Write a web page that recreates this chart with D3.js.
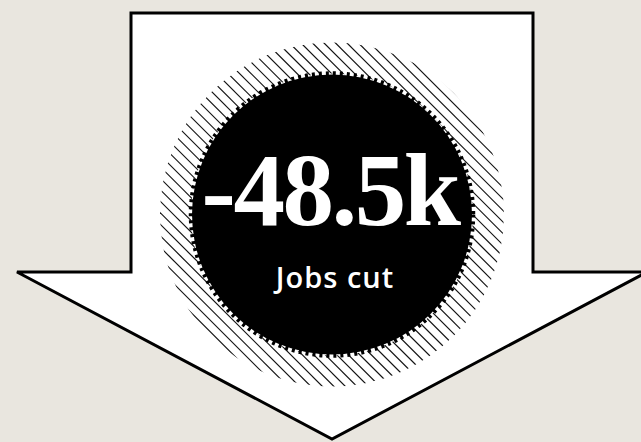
<!DOCTYPE html>
<html>
<head>
<meta charset="utf-8">
<script src="https://cdn.jsdelivr.net/npm/d3@7"></script>
<style>
  html, body { margin: 0; padding: 0; background: #e9e6df; }
  svg { display: block; }
</style>
</head>
<body>
<svg id="chart" width="641" height="442"></svg>
<script>
// ---- data ----
const values = [-48.5];
const units = ["k"];
const labels = ["Jobs cut"];

const W = 641, H = 442;
const svg = d3.select("#chart");
svg.append("rect").attr("width", W).attr("height", H).attr("fill", "#e9e6df");

const cx = 332, cy = 214.5;

// arrow
const shaftHalf = 201, shaftTop = 13, headY = 272, headHalf = 315, tipY = 439;
const arrowPts = [
  [cx - shaftHalf, shaftTop], [cx + shaftHalf, shaftTop], [cx + shaftHalf, headY],
  [cx + headHalf, headY], [cx, tipY], [cx - headHalf, headY], [cx - shaftHalf, headY]
];
svg.append("path")
  .attr("d", d3.line()(arrowPts) + "Z")
  .attr("fill", "#ffffff")
  .attr("stroke", "#000")
  .attr("stroke-width", 3)
  .attr("stroke-linejoin", "miter");

// hatched ring
const rInner = 141, rOuter = 172;
const defs = svg.append("defs");
defs.append("clipPath").attr("id", "ring")
  .append("path")
  .attr("d", d3.arc()({innerRadius: rInner, outerRadius: rOuter, startAngle: 0, endAngle: 2 * Math.PI}))
  .attr("transform", `translate(${cx},${cy})`);

const step = 11.5;
const offs = d3.range(-400, 400, step);
svg.append("g").attr("clip-path", "url(#ring)")
  .selectAll("line").data(offs).join("line")
  .attr("x1", d => cx + d - 250).attr("y1", cy - 250)
  .attr("x2", d => cx + d + 250).attr("y2", cy + 250)
  .attr("stroke", "#111").attr("stroke-width", 1.2);

// black disc with toothed edge
svg.append("circle").attr("cx", cx).attr("cy", cy).attr("r", 140).attr("fill", "#000");
svg.append("circle").attr("cx", cx).attr("cy", cy).attr("r", 141)
  .attr("fill", "none").attr("stroke", "#000").attr("stroke-width", 4.5)
  .attr("stroke-dasharray", "3,4");

// value text
const fmt = v => (v < 0 ? "-" : "") + d3.format(".1f")(Math.abs(v));
svg.append("text")
  .attr("x", 330).attr("y", 225)
  .attr("text-anchor", "middle")
  .attr("fill", "#fff")
  .attr("font-family", "'Liberation Serif', 'DejaVu Serif', serif")
  .attr("font-weight", 700)
  .attr("font-size", 103)
  .attr("letter-spacing", -2.5)
  .text(fmt(values[0]) + units[0]);

svg.append("text")
  .attr("x", 335).attr("y", 288)
  .attr("text-anchor", "middle")
  .attr("fill", "#fff")
  .attr("font-family", "'Open Sans', Lato, sans-serif")
  .attr("font-weight", 600)
  .attr("font-size", 29)
  .attr("letter-spacing", 1)
  .text(labels[0]);
</script>
</body>
</html>
